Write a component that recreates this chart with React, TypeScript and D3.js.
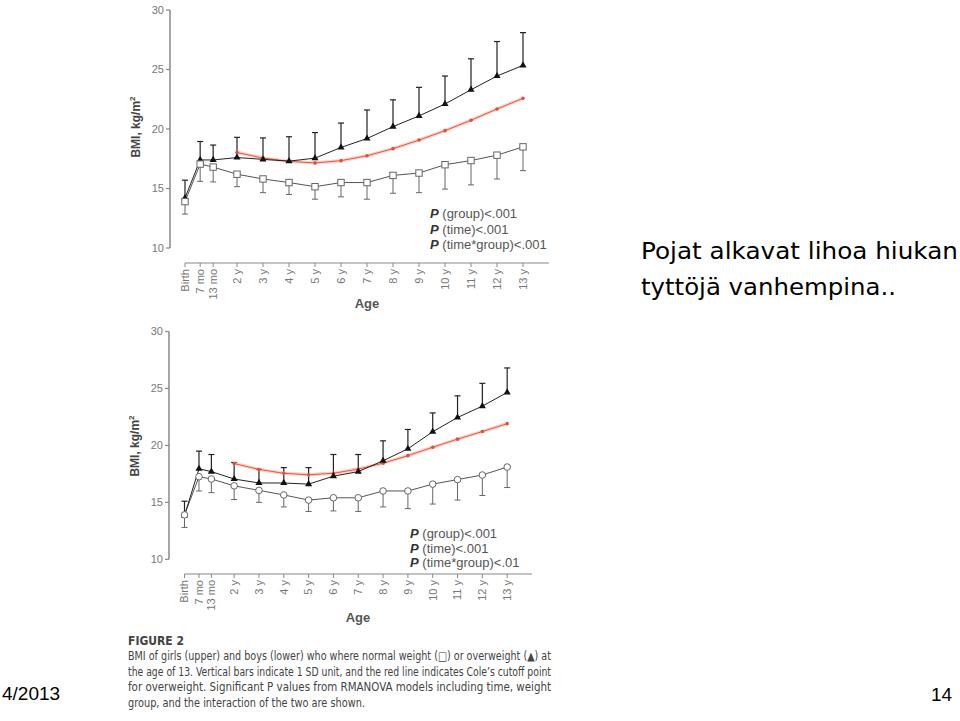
import React from "react";
import * as d3 from "d3";

const ageTicks = [0, 7 / 12, 13 / 12, 2, 3, 4, 5, 6, 7, 8, 9, 10, 11, 12, 13];
const ageLabels = ["Birth", "7 mo", "13 mo", "2 y", "3 y", "4 y", "5 y", "6 y", "7 y", "8 y", "9 y", "10 y", "11 y", "12 y", "13 y"];
const coleAges = [2, 3, 4, 5, 6, 7, 8, 9, 10, 11, 12, 13];
const yTicks = [10, 15, 20, 25, 30];

const girlsNormal = [13.9, 17.05, 16.8, 16.2, 15.8, 15.5, 15.15, 15.5, 15.5, 16.1, 16.3, 17.0, 17.35, 17.8, 18.5];
const girlsNormalLow = [12.85, 15.6, 15.55, 15.15, 14.65, 14.5, 14.1, 14.3, 14.1, 14.6, 14.65, 14.95, 15.3, 15.8, 16.5];
const girlsOver = [14.2, 17.4, 17.4, 17.6, 17.45, 17.3, 17.55, 18.45, 19.2, 20.2, 21.1, 22.1, 23.3, 24.45, 25.35];
const girlsOverHigh = [15.7, 18.95, 18.65, 19.3, 19.25, 19.35, 19.7, 20.5, 21.6, 22.45, 23.5, 24.45, 25.9, 27.35, 28.1];
const girlsCole = [18.02, 17.56, 17.28, 17.15, 17.34, 17.75, 18.35, 19.07, 19.86, 20.74, 21.68, 22.58];

const boysNormal = [13.9, 17.25, 17.05, 16.45, 16.05, 15.65, 15.2, 15.4, 15.4, 16.0, 16.0, 16.6, 17.0, 17.4, 18.1];
const boysNormalLow = [12.8, 16.0, 15.85, 15.25, 15.0, 14.6, 14.2, 14.25, 14.2, 14.6, 14.45, 14.85, 15.2, 15.6, 16.3];
const boysOver = [13.85, 17.95, 17.7, 17.05, 16.7, 16.7, 16.6, 17.3, 17.7, 18.65, 19.7, 21.2, 22.45, 23.45, 24.65];
const boysOverHigh = [15.1, 19.5, 19.2, 18.5, 17.9, 18.05, 18.05, 19.2, 19.2, 20.4, 21.4, 22.85, 24.35, 25.45, 26.8];
const boysCole = [18.41, 17.89, 17.55, 17.42, 17.55, 17.92, 18.44, 19.1, 19.84, 20.55, 21.22, 21.91];

const girlsP = ["(group)<.001", "(time)<.001", "(time*group)<.001"];
const boysP = ["(group)<.001", "(time)<.001", "(time*group)<.01"];

const captionLines = [
  "BMI of girls (upper) and boys (lower) who where normal weight (\u25A1) or overweight (\u25B2) at",
  "the age of 13. Vertical bars indicate 1 SD unit, and the red line indicates Cole\u2019s cutoff point",
  "for overweight. Significant P values from RMANOVA models including time, weight",
  "group, and the interaction of the two are shown.",
];

const SANS = "'Liberation Sans', Arial, sans-serif";
const NARROW = "'Liberation Sans Narrow', 'DejaVu Sans Condensed', 'Liberation Sans', sans-serif";

type PanelProps = {
  x0: number; x1: number; yTop: number; yBot: number; axisX: number; axisY: number;
  normal: number[]; normalLow: number[]; over: number[]; overHigh: number[]; cole: number[];
  pLines: string[]; pX: number; pY: number; pStep: number; labelY: number; ageX: number; ageY: number;
  circles: boolean;
};

function Panel(p: PanelProps) {
  const x = d3.scaleLinear().domain([0, 14]).range([p.x0, p.x1]);
  const y = d3.scaleLinear().domain([10, 30]).range([p.yBot, p.yTop]);
  const line = d3.line<[number, number]>().x((d) => x(d[0])).y((d) => y(d[1]));
  const nPts: [number, number][] = ageTicks.map((a, i) => [a, p.normal[i]]);
  const oPts: [number, number][] = ageTicks.map((a, i) => [a, p.over[i]]);
  const cPts: [number, number][] = coleAges.map((a, i) => [a, p.cole[i]]);
  const tri = d3.symbol().type(d3.symbolTriangle).size(22)();
  const cap = 3;
  return (
    <g>
      <line x1={p.axisX} x2={p.axisX} y1={y(30)} y2={y(10)} stroke="#888" strokeWidth={1.5} />
      {yTicks.map((t) => (
        <g key={t}>
          <line x1={p.axisX - 4} x2={p.axisX} y1={y(t)} y2={y(t)} stroke="#888" strokeWidth={1.2} />
          <text x={p.axisX - 6} y={y(t)} dy="0.35em" textAnchor="end" fontSize={11} fill="#777" fontFamily={SANS}>{t}</text>
        </g>
      ))}
      <text transform={`translate(${p.axisX - 30},${p.labelY}) rotate(-90)`} textAnchor="middle" fontSize={12} fontWeight="bold" fill="#444" fontFamily={SANS}>
        BMI, kg/m<tspan fontSize={8} dy={-5}>2</tspan>
      </text>
      <line x1={x(0)} x2={x(14)} y1={p.axisY} y2={p.axisY} stroke="#888" strokeWidth={1.2} />
      {ageTicks.map((a, i) => (
        <g key={i}>
          <line x1={x(a)} x2={x(a)} y1={p.axisY} y2={p.axisY + 4} stroke="#888" strokeWidth={1} />
          <text transform={`translate(${x(a)},${p.axisY + 6}) rotate(-90)`} dy="0.35em" textAnchor="end" fontSize={11} fill="#777" fontFamily={SANS}>{ageLabels[i]}</text>
        </g>
      ))}
      <text x={p.ageX} y={p.ageY} textAnchor="middle" fontSize={13} fontWeight="bold" fill="#555" fontFamily={SANS}>Age</text>
      {ageTicks.map((a, i) => (
        <g key={"eo" + i} stroke="#222" strokeWidth={1.2}>
          <line x1={x(a)} x2={x(a)} y1={y(p.over[i])} y2={y(p.overHigh[i])} />
          <line x1={x(a) - cap} x2={x(a) + cap} y1={y(p.overHigh[i])} y2={y(p.overHigh[i])} />
        </g>
      ))}
      {ageTicks.map((a, i) => (
        <g key={"en" + i} stroke="#666" strokeWidth={1}>
          <line x1={x(a)} x2={x(a)} y1={y(p.normal[i])} y2={y(p.normalLow[i])} />
          <line x1={x(a) - cap} x2={x(a) + cap} y1={y(p.normalLow[i])} y2={y(p.normalLow[i])} />
        </g>
      ))}
      <path d={line(cPts) || ""} fill="none" stroke="#f6b8a8" strokeWidth={3.5} opacity={0.6} />
      <path d={line(cPts) || ""} fill="none" stroke="#e4583f" strokeWidth={1} />
      {cPts.map((d, i) => (
        <circle key={"c" + i} cx={x(d[0])} cy={y(d[1])} r={1.8} fill="#e0503a" />
      ))}
      <path d={line(nPts) || ""} fill="none" stroke="#555" strokeWidth={1} />
      <path d={line(oPts) || ""} fill="none" stroke="#222" strokeWidth={1} />
      {oPts.map((d, i) => (
        <path key={"t" + i} d={tri || ""} transform={`translate(${x(d[0])},${y(d[1])})`} fill="#111" />
      ))}
      {nPts.map((d, i) =>
        p.circles ? (
          <circle key={"n" + i} cx={x(d[0])} cy={y(d[1])} r={3.3} fill="#fff" stroke="#666" strokeWidth={1} />
        ) : (
          <rect key={"n" + i} x={x(d[0]) - 3.2} y={y(d[1]) - 3.2} width={6.4} height={6.4} fill="#fff" stroke="#666" strokeWidth={1} />
        )
      )}
      {p.pLines.map((s, i) => (
        <text key={"p" + i} x={p.pX} y={p.pY + i * p.pStep} fontSize={13} fill="#555" fontFamily={SANS}>
          <tspan fontWeight="bold" fontStyle="italic" fill="#333">P</tspan> {s}
        </text>
      ))}
    </g>
  );
}

export default function App() {
  return (
    <div style={{ position: "absolute", left: 0, top: 0 }}>
      <svg width={960} height={721} style={{ display: "block", background: "#fff" }}>
        <Panel x0={185} x1={549} yTop={10} yBot={248} axisX={170} axisY={263}
          normal={girlsNormal} normalLow={girlsNormalLow} over={girlsOver} overHigh={girlsOverHigh} cole={girlsCole}
          pLines={girlsP} pX={430} pY={218} pStep={15.5} labelY={127} ageX={367} ageY={308} circles={false} />
        <Panel x0={184.5} x1={532} yTop={331.5} yBot={559.3} axisX={169} axisY={574}
          normal={boysNormal} normalLow={boysNormalLow} over={boysOver} overHigh={boysOverHigh} cole={boysCole}
          pLines={boysP} pX={410} pY={538} pStep={14.5} labelY={446} ageX={358} ageY={622} circles={true} />
        <text x={128} y={645} fontSize={12} fontWeight="bold" fill="#444" fontFamily={NARROW}>FIGURE 2</text>
        {captionLines.map((s, i) => (
          <text key={i} x={128} y={660 + i * 15.5} fontSize={11.5} fill="#444" fontFamily={NARROW}
            textLength={i < 3 ? 423 : 237} lengthAdjust="spacingAndGlyphs">{s}</text>
        ))}
        <text x={641} y={259} fontSize={23} fill="#000" fontFamily="'DejaVu Sans', sans-serif" textLength={317} lengthAdjust="spacingAndGlyphs">Pojat alkavat lihoa hiukan</text>
        <text x={641} y={295} fontSize={23} fill="#000" fontFamily="'DejaVu Sans', sans-serif" textLength={255} lengthAdjust="spacingAndGlyphs">tyttöjä vanhempina..</text>
        <text x={2} y={700} fontSize={19} fill="#000" fontFamily={SANS}>4/2013</text>
        <text x={931} y={701} fontSize={19} fill="#000" fontFamily={SANS}>14</text>
      </svg>
    </div>
  );
}
